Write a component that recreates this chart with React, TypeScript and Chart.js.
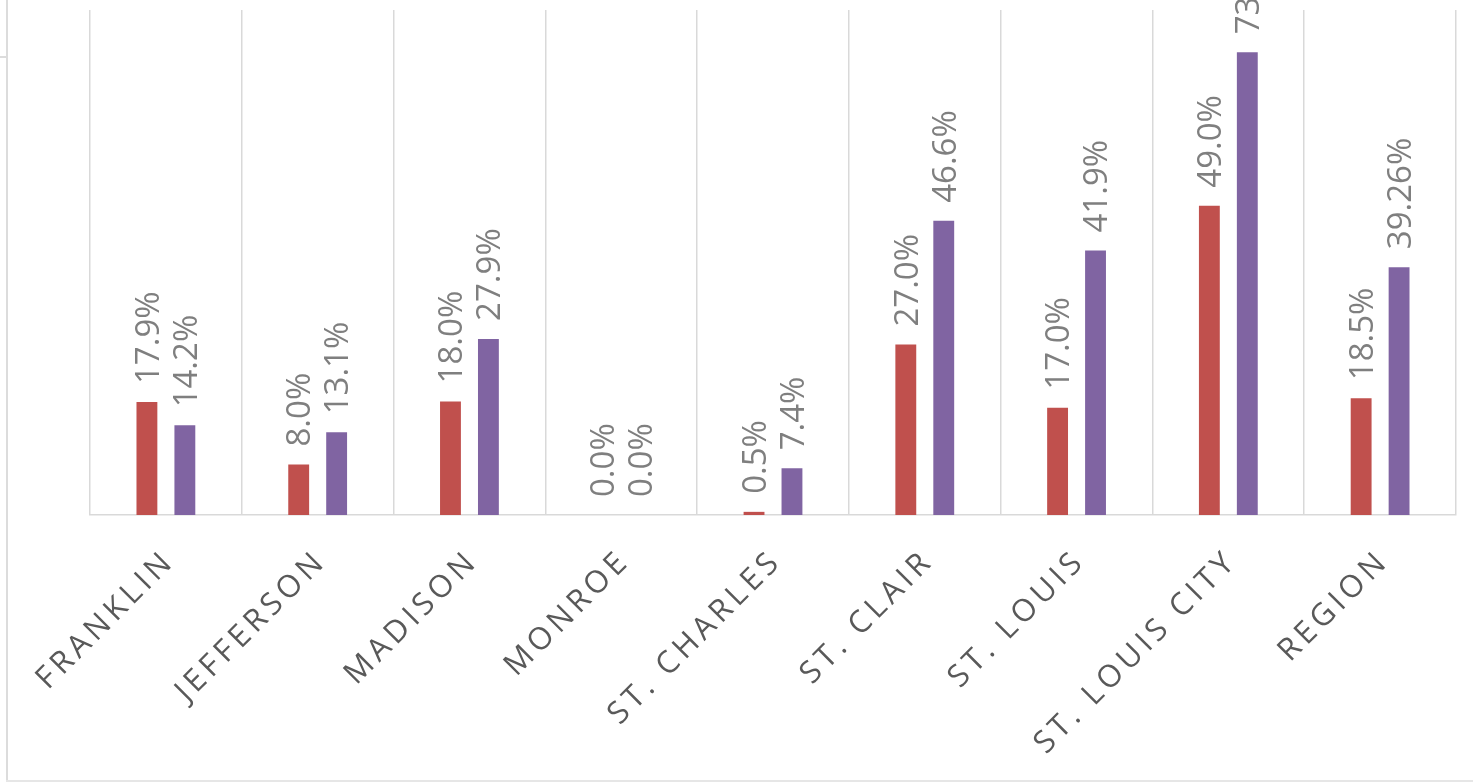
import React, { useEffect, useRef } from "react";
import { Chart, registerables } from "chart.js";

Chart.register(...registerables);

const categories = [
  "FRANKLIN",
  "JEFFERSON",
  "MADISON",
  "MONROE",
  "ST. CHARLES",
  "ST. CLAIR",
  "ST. LOUIS",
  "ST. LOUIS CITY",
  "REGION",
];
const seriesA = [17.9, 8.0, 18.0, 0.0, 0.5, 27.0, 17.0, 49.0, 18.5];
const seriesB = [14.2, 13.1, 27.9, 0.0, 7.4, 46.6, 41.9, 73.3, 39.26];
const labelsA = ["17.9%", "8.0%", "18.0%", "0.0%", "0.5%", "27.0%", "17.0%", "49.0%", "18.5%"];
const labelsB = ["14.2%", "13.1%", "27.9%", "0.0%", "7.4%", "46.6%", "41.9%", "73.3%", "39.26%"];
const yMin = 0;
const yMax = 80;

const FONT = '"Open Sans", "DejaVu Sans", sans-serif';

const valueLabelPlugin = {
  id: "valueLabels",
  afterDatasetsDraw(chart: any) {
    const ctx = chart.ctx;
    const lists = [labelsA, labelsB];
    const size = 33;
    ctx.save();
    ctx.font = `${size}px ${FONT}`;
    ctx.fillStyle = "#7f7f7f";
    ctx.textAlign = "left";
    ctx.textBaseline = "alphabetic";
    chart.data.datasets.forEach((_ds: any, di: number) => {
      const meta = chart.getDatasetMeta(di);
      meta.data.forEach((el: any, i: number) => {
        const cap = size * 0.714;
        ctx.save();
        ctx.translate(el.x + cap / 2, el.y - 18);
        ctx.rotate(-Math.PI / 2);
        ctx.fillText(lists[di][i], 0, 0);
        ctx.restore();
      });
    });
    ctx.restore();
  },
};

const categoryLabelPlugin = {
  id: "categoryLabels",
  afterDraw(chart: any) {
    const ctx = chart.ctx;
    const xs = chart.scales.x;
    const axisY = chart.chartArea.bottom;
    ctx.save();
    ctx.font = `31px ${FONT}`;
    ctx.fillStyle = "#595959";
    ctx.textAlign = "right";
    ctx.textBaseline = "middle";
    try {
      (ctx as any).letterSpacing = "4.5px";
    } catch (e) {}
    categories.forEach((c, i) => {
      const cx = xs.getPixelForValue(i);
      ctx.save();
      ctx.translate(cx + 4, axisY + 41);
      ctx.rotate(-Math.PI / 4);
      ctx.fillText(c, 0, 0);
      ctx.restore();
    });
    ctx.restore();
  },
};

export default function App() {
  const ref = useRef<HTMLCanvasElement | null>(null);
  useEffect(() => {
    if (!ref.current) return;
    const chart = new Chart(ref.current, {
      type: "bar",
      data: {
        labels: categories,
        datasets: [
          {
            label: "A",
            data: seriesA,
            backgroundColor: "#C0504D",
            categoryPercentage: 0.5,
            barPercentage: 0.55,
          },
          {
            label: "B",
            data: seriesB,
            backgroundColor: "#8064A2",
            categoryPercentage: 0.5,
            barPercentage: 0.55,
          },
        ],
      },
      options: {
        animation: false,
        responsive: false,
        maintainAspectRatio: false,
        layout: { padding: { left: 90, right: 17, top: 70, bottom: 0 } },
        plugins: {
          legend: { display: false },
          tooltip: { enabled: false },
        },
        scales: {
          x: {
            grid: {
              offset: true,
              color: "#d9d9d9",
              lineWidth: 1.5,
              drawTicks: false,
            },
            border: { display: true, color: "#d9d9d9", width: 1.5 },
            ticks: { display: false },
            afterFit: (scale: any) => {
              scale.height = 268;
            },
          },
          y: {
            display: false,
            min: yMin,
            max: yMax,
          },
        },
      },
      plugins: [valueLabelPlugin, categoryLabelPlugin],
    });
    return () => chart.destroy();
  }, []);

  return (
    <div>
      <div
        style={{
          position: "absolute",
          left: 0,
          top: -60,
          width: 1473,
          height: 843,
        }}
      >
        <canvas ref={ref} width={1473} height={843} style={{ display: "block" }} />
      </div>
      <div style={{ position: "absolute", left: 6, top: 0, width: 1.5, height: 781, background: "#dcdcdc" }} />
      <div style={{ position: "absolute", left: 0, top: 56, width: 6, height: 1.5, background: "#dcdcdc" }} />
      <div style={{ position: "absolute", left: 6, top: 780, width: 1467, height: 1.5, background: "#e6e6e6" }} />
    </div>
  );
}
